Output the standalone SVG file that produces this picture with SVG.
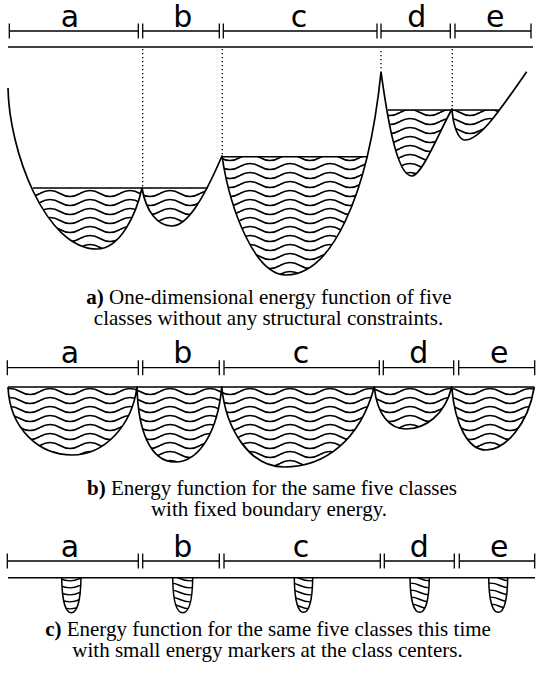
<svg xmlns="http://www.w3.org/2000/svg" width="536" height="678" viewBox="0 0 536 678">
<style>
.bar{stroke:#000;stroke-width:1.3;fill:none}
.base{stroke:#000;stroke-width:1.4;fill:none}
.dot{stroke:#000;stroke-width:1.3;stroke-dasharray:1.3 2.7;fill:none}
.out{stroke:#000;stroke-width:1.7;fill:none;stroke-linejoin:round}
.water{stroke:#000;stroke-width:1.6;fill:none}
.wf{fill:url(#wv);stroke:none}
.mk{fill:url(#wm);stroke:#000;stroke-width:1.5}
.lbl{font-family:"DejaVu Sans",sans-serif;font-size:30px;text-anchor:middle;fill:#000}
.cap{font-family:"Liberation Serif","Times New Roman",serif;font-size:21px;text-anchor:middle;fill:#000}
</style>
<defs>
<pattern id="wv" width="40" height="9" patternUnits="userSpaceOnUse">
<path d="M0,4.5 C6.67,0.5 13.33,0.5 20,4.5 S33.33,8.5 40,4.5" fill="none" stroke="#000" stroke-width="1.6"/>
</pattern>
<pattern id="wm" width="40" height="7" patternUnits="userSpaceOnUse" y="1">
<path d="M0,3.5 C6.67,0.3 13.33,0.3 20,3.5 S33.33,6.7 40,3.5" fill="none" stroke="#000" stroke-width="1.4"/>
</pattern>
<clipPath id="cAB"><rect x="0" y="188" width="536" height="100"/></clipPath>
<clipPath id="cC"><rect x="0" y="156.7" width="536" height="130"/></clipPath>
<clipPath id="cDE"><rect x="0" y="110" width="536" height="100"/></clipPath>
</defs>

<!-- Part a -->
<g id="bar-a">
<path class="bar" d="M9.3,31H138.3M142.7,31H219.3M223.3,31H377M381,31H450.3M455,31H531"/>
<path class="bar" d="M9.3,23.5V38.5M138.3,23.5V38.5M142.7,23.5V38.5M219.3,23.5V38.5M223.3,23.5V38.5M377,23.5V38.5M381,23.5V38.5M450.3,23.5V38.5M455,23.5V38.5M531,23.5V38.5"/>
<text class="lbl" x="70" y="26.7">a</text>
<text class="lbl" x="182.7" y="26.7">b</text>
<text class="lbl" x="299" y="26.7">c</text>
<text class="lbl" x="416.7" y="26.7">d</text>
<text class="lbl" x="495.3" y="26.7">e</text>
<path class="base" d="M8,47H533"/>
</g>
<g id="energy-a">
<g clip-path="url(#cAB)">
<path class="wf" d="M8,88 C9,150 45,249 97,249 C120,249 136,215 142,188 Z"/>
<path class="wf" d="M142,188 C146,212 158,226 172,226 C187,226 203,200 222,156 Z"/>
</g>
<g clip-path="url(#cC)">
<path class="wf" d="M222,156 C230,210 255,275 286,275 C330,275 368,200 381,72 Z"/>
</g>
<g clip-path="url(#cDE)">
<path class="wf" d="M381,72 C385,100 395,176 411.7,176 C422,176 440,130 452,109 Z"/>
<path class="wf" d="M452,109 C453,125 458,140 465,140 C480,140 500,110 526.7,71.7 Z"/>
</g>
<path class="water" d="M33,188H208M222,156.7H367.7M388,110H499.3"/>
<path class="out" d="M8,88 C9,150 45,249 97,249 C120,249 136,215 142,188 C146,212 158,226 172,226 C187,226 203,200 222,156 C230,210 255,275 286,275 C330,275 368,200 381,72 C385,100 395,176 411.7,176 C422,176 440,130 452,109 C453,125 458,140 465,140 C480,140 500,110 526.7,71.7"/>
</g>
<g id="dotted-a">
<path class="dot" d="M142.7,49V188M222.3,49V156M381,51V70M452.3,49V109"/>
</g>
<g id="caption-a">
<text class="cap" x="269" y="304"><tspan font-weight="bold">a)</tspan> One-dimensional energy function of five</text>
<text class="cap" x="268.5" y="325">classes without any structural constraints.</text>
</g>

<!-- Part b -->
<g id="bar-b">
<path class="bar" d="M7.3,367.7H138.3M142.7,367.7H219.3M224,367.7H379.3M383.3,367.7H453.7M458.7,367.7H534.7"/>
<path class="bar" d="M7.3,360.2V375.2M138.3,360.2V375.2M142.7,360.2V375.2M219.3,360.2V375.2M224,360.2V375.2M379.3,360.2V375.2M383.3,360.2V375.2M453.7,360.2V375.2M458.7,360.2V375.2M534.7,360.2V375.2"/>
<text class="lbl" x="70" y="363.3">a</text>
<text class="lbl" x="182.7" y="363.3">b</text>
<text class="lbl" x="301" y="363.3">c</text>
<text class="lbl" x="418.7" y="363.3">d</text>
<text class="lbl" x="499.3" y="363.3">e</text>
</g>
<g id="energy-b">
<path class="wf" d="M8,387 C10,430 40,455 72,455 C105,455 132,425 137,387 Z"/>
<path class="wf" d="M137,387 C138,430 150,462 175,462 C200,462 218,430 221.7,387 Z"/>
<path class="wf" d="M221.7,387 C226,430 250,467 284,467 C325,467 360,440 374.3,387 Z"/>
<path class="wf" d="M374.3,387 C377,415 390,429 406,429 C425,429 445,415 451.7,387 Z"/>
<path class="wf" d="M451.7,387 C455,425 468,450 486,450 C505,450 528,425 534.3,387 Z"/>
<path class="out" d="M8,387 C10,430 40,455 72,455 C105,455 132,425 137,387 C138,430 150,462 175,462 C200,462 218,430 221.7,387 C226,430 250,467 284,467 C325,467 360,440 374.3,387 C377,415 390,429 406,429 C425,429 445,415 451.7,387 C455,425 468,450 486,450 C505,450 528,425 534.3,387"/>
<path class="water" d="M8,387H534.3"/>
</g>
<g id="caption-b">
<text class="cap" x="272" y="495"><tspan font-weight="bold">b)</tspan> Energy function for the same five classes</text>
<text class="cap" x="269" y="516">with fixed boundary energy.</text>
</g>

<!-- Part c -->
<g id="bar-c">
<path class="bar" d="M7.3,561H138.3M142.7,561H219.3M224,561H380.3M384.3,561H454.3M459.3,561H534.7"/>
<path class="bar" d="M7.3,553.5V568.5M138.3,553.5V568.5M142.7,553.5V568.5M219.3,553.5V568.5M224,553.5V568.5M380.3,553.5V568.5M384.3,553.5V568.5M454.3,553.5V568.5M459.3,553.5V568.5M534.7,553.5V568.5"/>
<text class="lbl" x="70" y="556.7">a</text>
<text class="lbl" x="182.7" y="556.7">b</text>
<text class="lbl" x="301" y="556.7">c</text>
<text class="lbl" x="419.3" y="556.7">d</text>
<text class="lbl" x="499.3" y="556.7">e</text>
<path class="base" d="M8,577.7H535"/>
</g>
<g id="markers-c">
<path class="mk" d="M61.7,578 C62,602 66,612.7 71.3,612.7 C76.6,612.7 80.6,602 81,578"/>
<path class="mk" d="M172.7,578 C173,602 177,612.7 182.7,612.7 C188.4,612.7 192.4,602 192.7,578"/>
<path class="mk" d="M294.3,578 C294.6,602 298.5,612.3 303.5,612.3 C308.5,612.3 312.4,602 312.7,578"/>
<path class="mk" d="M410,578 C410.3,602 414.5,612.3 419.7,612.3 C424.9,612.3 429,602 429.3,578"/>
<path class="mk" d="M488.7,578 C489,602 493,612.3 498.2,612.3 C503.4,612.3 507.4,602 507.7,578"/>
</g>
<g id="caption-c">
<text class="cap" x="268" y="636"><tspan font-weight="bold">c)</tspan> Energy function for the same five classes this time</text>
<text class="cap" x="267.5" y="657">with small energy markers at the class centers.</text>
</g>
</svg>
